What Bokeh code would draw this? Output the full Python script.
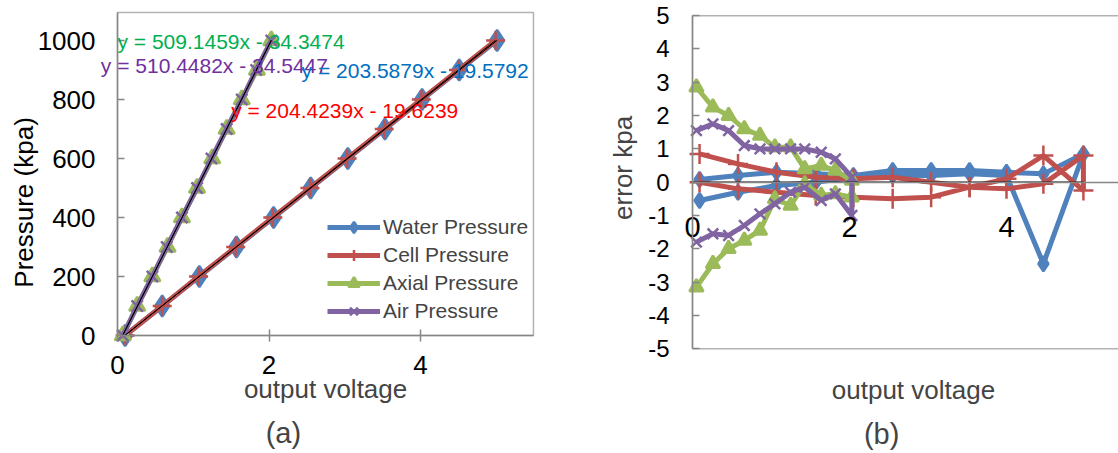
import numpy as np
from bokeh.plotting import figure
from bokeh.models import (Legend, LegendItem, Label, Range1d, FixedTicker,
                          LinearAxis, BoxAnnotation)
from bokeh.layouts import row
from bokeh.embed import file_html
from bokeh.resources import INLINE

FONT = "Liberation Sans"

# ---------------- data: panel (a) ----------------
pressure = [0, 100, 200, 300, 400, 500, 600, 700, 800, 900, 1000]
v_water = [0.10, 0.59, 1.08, 1.57, 2.06, 2.55, 3.04, 3.53, 4.02, 4.51, 5.01]
v_cell = [0.10, 0.59, 1.07, 1.56, 2.05, 2.54, 3.03, 3.52, 4.01, 4.50, 4.99]
v_axial = [0.07, 0.26, 0.46, 0.66, 0.85, 1.05, 1.25, 1.44, 1.64, 1.84, 2.03]
v_air = [0.07, 0.26, 0.46, 0.65, 0.85, 1.05, 1.24, 1.44, 1.64, 1.83, 2.03]

series_names = ["Water Pressure", "Cell Pressure", "Axial Pressure", "Air Pressure"]
fit_slopes = [203.5879, 204.4239, 509.1459, 510.4482]
fit_intercepts = [-19.5792, -19.6239, -34.3474, -34.5447]
fit_texts = ["y = 203.5879x - 19.5792", "y = 204.4239x - 19.6239",
             "y = 509.1459x - 34.3474", "y = 510.4482x - 34.5447"]
ticks_a_x = [0, 2, 4]
ticks_a_y = [0, 200, 400, 600, 800, 1000]

# ---------------- data: panel (b) ----------------
xb_wc = [0.09, 0.58, 1.07, 1.57, 2.05, 2.55, 3.04, 3.53, 4.00, 4.47, 4.98]
xb_aa = [0.05, 0.26, 0.46, 0.66, 0.86, 1.05, 1.25, 1.43, 1.64, 1.82, 2.03]
err_water_up = [0.08, 0.2, 0.3, 0.25, 0.2, 0.35, 0.35, 0.35, 0.3, 0.25, 0.85]
err_water_down = [-0.55, -0.3, -0.1, 0.0, 0.15, 0.2, 0.2, 0.25, 0.2, -2.45, 0.85]
err_cell_up = [0.85, 0.55, 0.3, 0.15, 0.1, 0.15, 0.0, -0.15, -0.2, -0.05, 0.8]
err_cell_down = [0.0, -0.2, -0.3, -0.4, -0.45, -0.5, -0.45, -0.15, 0.1, 0.8, -0.25]
err_axial_up = [2.85, 2.25, 2.0, 1.6, 1.4, 1.05, 1.05, 0.4, 0.5, 0.35, 0.05]
err_axial_down = [-3.15, -2.45, -2.0, -1.75, -1.45, -0.5, -0.7, -0.05, -0.4, -0.35, -0.45]
err_air_up = [1.55, 1.75, 1.55, 1.1, 1.0, 1.0, 1.0, 1.0, 0.9, 0.7, 0.15]
err_air_down = [-1.8, -1.55, -1.6, -1.3, -0.95, -0.65, -0.3, -0.15, -0.55, -0.35, -1.0]
ticks_b_x = [0, 2, 4]
ticks_b_y = [-5, -4, -3, -2, -1, 0, 1, 2, 3, 4, 5]

COLORS = ["#4F81BD", "#C0504D", "#9BBB59", "#8064A2"]
FIT_COLORS = ["#0070C0", "#FF0000", "#00B050", "#7030A0"]
MARKERS = ["diamond", "cross", "triangle", "x"]
AXIS_GRAY = "#868686"


def style_axis(ax, size):
    ax.axis_line_color = AXIS_GRAY
    ax.axis_line_width = 1.5
    ax.major_tick_line_color = AXIS_GRAY
    ax.major_tick_line_width = 1.5
    ax.minor_tick_line_color = None
    ax.major_label_text_font = FONT
    ax.major_label_text_font_size = size
    ax.major_label_text_color = "black"


# ---------------- panel (a) ----------------
XA0, XA1 = 0, 5.49
YA0, YA1 = 0, 1095
p1 = figure(width=560, height=453, output_backend="svg", toolbar_location=None,
            x_range=Range1d(-1.5444, 5.847), y_range=Range1d(-400, 1135.6),
            x_axis_location=None, y_axis_location=None,
            min_border_left=0, min_border_right=0, min_border_top=0, min_border_bottom=0)
p1.xgrid.visible = False
p1.ygrid.visible = False
p1.outline_line_color = None
p1.background_fill_color = "white"

p1.add_layout(BoxAnnotation(left=XA0, right=XA1, bottom=YA0, top=YA1, fill_alpha=0,
                            line_color="black", line_width=1.5, level="underlay"))

volts = [v_water, v_cell, v_axial, v_air]
msizes_a = [21, 19, 16, 16]
items = []
for i in range(4):
    ln = p1.line(volts[i], pressure, line_color=COLORS[i], line_width=5)
    sc = p1.scatter(volts[i], pressure, marker=MARKERS[i], size=msizes_a[i],
                    fill_color=COLORS[i], line_color=COLORS[i], line_width=2.5)
    items.append(LegendItem(label=series_names[i], renderers=[ln, sc]))

for i in range(4):
    xs = [min(volts[i]), max(volts[i])]
    ys = [fit_slopes[i] * x + fit_intercepts[i] for x in xs]
    p1.line(xs, ys, line_color="black", line_width=1)

legend = Legend(items=items, location=(327, 128), padding=0, margin=0, spacing=0,
                label_height=28, glyph_height=28, glyph_width=53, label_standoff=3,
                border_line_color=None, background_fill_alpha=0,
                label_text_font=FONT, label_text_font_size="21px")
p1.add_layout(legend)

ya = LinearAxis(fixed_location=0, bounds=(YA0, YA1), ticker=FixedTicker(ticks=ticks_a_y))
style_axis(ya, "26px")
ya.major_tick_in = 7
ya.major_tick_out = 0
ya.major_label_standoff = 22
p1.add_layout(ya, "left")

xa = LinearAxis(fixed_location=0, bounds=(XA0, XA1), ticker=FixedTicker(ticks=ticks_a_x))
style_axis(xa, "26px")
xa.major_tick_in = 6
xa.major_tick_out = 6
xa.major_label_standoff = 14
p1.add_layout(xa, "below")

eq_pos = [(2.43, 898), (1.50, 763), (0.0, 997), (-0.22, 915)]
for i in [2, 3, 0, 1]:
    p1.add_layout(Label(x=eq_pos[i][0], y=eq_pos[i][1], text=fit_texts[i],
                        text_color=FIT_COLORS[i], text_font=FONT, text_font_size="21px",
                        text_align="left", text_baseline="middle"))

p1.add_layout(Label(x=-1.24, y=451, text="Pressure (kpa)", angle=np.pi / 2,
                    text_font=FONT, text_font_size="26px", text_align="center",
                    text_baseline="middle", text_color="black"))
p1.add_layout(Label(x=2.746, y=-183, text="output voltage", text_font=FONT,
                    text_font_size="26px", text_align="center", text_baseline="middle"))
p1.add_layout(Label(x=2.19, y=-329, text="(a)", text_font=FONT,
                    text_font_size="29px", text_align="center", text_baseline="middle"))

# ---------------- panel (b) ----------------
p2 = figure(width=558, height=453, output_backend="svg", toolbar_location=None,
            x_range=Range1d(-1.6815, 5.427), y_range=Range1d(-8.147, 5.456),
            x_axis_location=None, y_axis_location=None,
            min_border_left=0, min_border_right=0, min_border_top=0, min_border_bottom=0)
p2.xgrid.visible = False
p2.ygrid.visible = False
p2.outline_line_color = None
p2.background_fill_color = "white"

p2.add_layout(BoxAnnotation(left=0, right=7, bottom=-5, top=5, fill_alpha=0,
                            line_color="black", line_width=1.5, level="underlay"))

errs = [(xb_wc, err_water_up, err_water_down), (xb_wc, err_cell_up, err_cell_down),
        (xb_aa, err_axial_up, err_axial_down), (xb_aa, err_air_up, err_air_down)]
msizes_b = [15, 20, 14, 15]
for i, (xs, up, down) in enumerate(errs):
    xx = list(xs) + list(xs)[::-1]
    yy = list(up) + list(down)[::-1]
    p2.line(xx, yy, line_color=COLORS[i], line_width=5)
    p2.scatter(xx, yy, marker=MARKERS[i], size=msizes_b[i],
               fill_color=COLORS[i], line_color=COLORS[i], line_width=2.5)

p2.line([0, xb_wc[-1]], [0, 0], line_color="black", line_width=1.2)

yb = LinearAxis(fixed_location=0, bounds=(-5, 5), ticker=FixedTicker(ticks=ticks_b_y))
style_axis(yb, "24px")
yb.major_tick_in = 7
yb.major_tick_out = 0
yb.major_label_standoff = 23
yb.major_label_overrides = {t: str(t) for t in ticks_b_y}
p2.add_layout(yb, "left")

xb = LinearAxis(fixed_location=0, bounds=(0, 5.427), ticker=FixedTicker(ticks=ticks_b_x))
style_axis(xb, "29px")
xb.major_tick_in = 0
xb.major_tick_out = 0
xb.major_label_standoff = 35
p2.add_layout(xb, "below")

p2.add_layout(Label(x=-0.885, y=0.43, text="error kpa", angle=np.pi / 2,
                    text_font=FONT, text_font_size="26px", text_align="center",
                    text_baseline="middle"))
p2.add_layout(Label(x=2.815, y=-6.25, text="output voltage", text_font=FONT,
                    text_font_size="26px", text_align="center", text_baseline="middle"))
p2.add_layout(Label(x=2.41, y=-7.55, text="(b)", text_font=FONT,
                    text_font_size="29px", text_align="center", text_baseline="middle"))

layout = row(p1, p2)
open("out.html", "w").write(file_html(layout, INLINE))
